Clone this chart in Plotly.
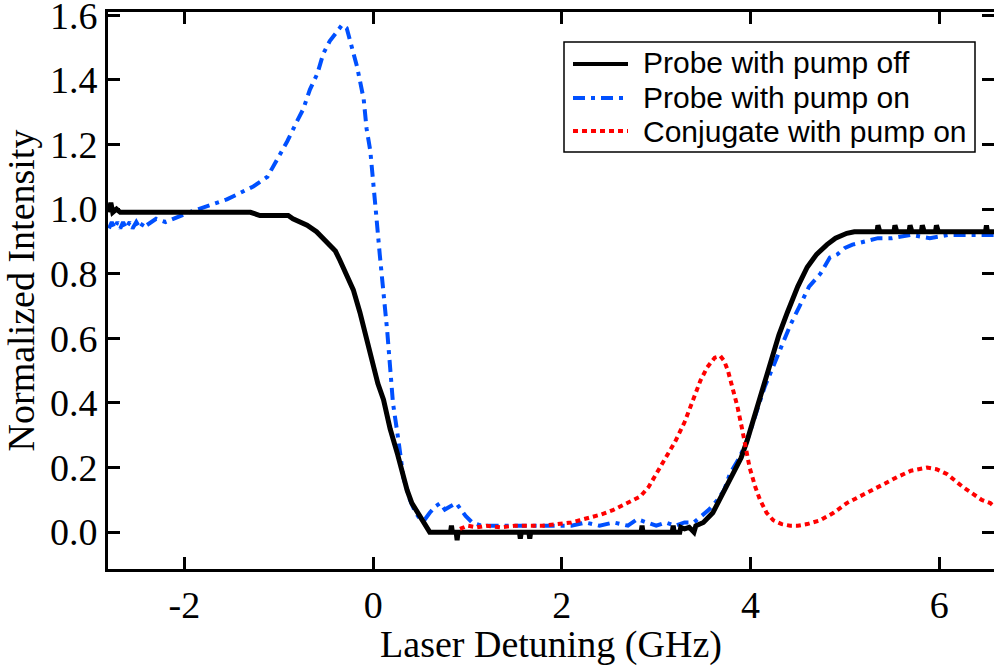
import plotly.graph_objects as go

# ---------------- data ----------------
black_x = [-2.80, -2.78, -2.76, -2.72, -2.68, -2.64, -2.60, -2.55, -2.50, -2.45, -2.40, -2.30, -2.20, -2.10,
           -2.00, -1.90, -1.80, -1.70, -1.60, -1.50, -1.40, -1.30, -1.20, -1.10, -1.00, -0.90, -0.85, -0.78,
           -0.70, -0.60, -0.50, -0.40, -0.35, -0.30, -0.21, -0.14, -0.06, 0.00, 0.05, 0.11, 0.18, 0.26, 0.31,
           0.36, 0.41, 0.47, 0.53, 0.60, 0.70, 0.82, 0.83, 0.84, 0.88, 0.89, 0.90, 1.20, 1.55, 1.56, 1.57,
           1.65, 1.66, 1.67, 2.00, 2.50, 2.84, 2.85, 2.86, 3.17, 3.18, 3.19, 3.25, 3.26, 3.30, 3.35, 3.40,
           3.42, 3.50, 3.60, 3.71, 3.80, 3.90, 3.96, 4.05, 4.12, 4.21, 4.30, 4.39, 4.50, 4.60, 4.70, 4.81,
           4.90, 5.02, 5.10, 5.34, 5.35, 5.37, 5.52, 5.53, 5.55, 5.68, 5.69, 5.71, 5.81, 5.82, 5.84, 5.96,
           5.97, 5.99, 6.49, 6.50, 6.51, 6.58]
black_y = [0.99, 1.02, 0.99, 1.00, 0.99, 0.99, 0.99, 0.99, 0.99, 0.99, 0.99, 0.99, 0.99, 0.99,
           0.99, 0.99, 0.99, 0.99, 0.99, 0.99, 0.99, 0.99, 0.98, 0.98, 0.98, 0.98, 0.97, 0.96,
           0.95, 0.93, 0.90, 0.87, 0.84, 0.81, 0.75, 0.68, 0.59, 0.52, 0.46, 0.41, 0.32, 0.24, 0.18,
           0.13, 0.09, 0.06, 0.03, 0.00, 0.00, 0.00, 0.02, 0.00, 0.00, -0.025, 0.00, 0.00, 0.00, -0.02, 0.00,
           0.00, -0.02, 0.00, 0.00, 0.00, 0.00, 0.02, 0.00, 0.00, 0.02, 0.00, 0.00, 0.015, 0.01, 0.015, 0.00,
           0.02, 0.03, 0.06, 0.12, 0.17, 0.23, 0.28, 0.37, 0.44, 0.53, 0.61, 0.68, 0.76, 0.82, 0.86, 0.89,
           0.91, 0.925, 0.93, 0.93, 0.95, 0.93, 0.93, 0.95, 0.93, 0.93, 0.95, 0.93, 0.93, 0.95, 0.93, 0.93,
           0.95, 0.93, 0.93, 0.95, 0.93, 0.93]

blue_x = [-2.80, -2.77, -2.74, -2.71, -2.68, -2.65, -2.62, -2.58, -2.55, -2.51, -2.47, -2.43, -2.40, -2.30,
          -2.20, -2.12, -2.05, -1.95, -1.85, -1.76, -1.65, -1.55, -1.41, -1.27, -1.12, -1.02, -0.91, -0.81,
          -0.74, -0.67, -0.59, -0.53, -0.46, -0.38, -0.33, -0.28, -0.24, -0.17, -0.10, -0.07, -0.03, 0.00,
          0.03, 0.07, 0.11, 0.15, 0.18, 0.21, 0.27, 0.32, 0.39, 0.45, 0.50, 0.55, 0.60, 0.66, 0.71, 0.76,
          0.82, 0.88, 0.93, 0.98, 1.05, 1.15, 1.30, 1.50, 1.70, 1.90, 2.10, 2.25, 2.40, 2.55, 2.70, 2.80,
          2.90, 3.00, 3.10, 3.20, 3.30, 3.40, 3.48, 3.56, 3.65, 3.72, 3.78, 3.88, 3.96, 4.05, 4.15, 4.25,
          4.33, 4.42, 4.52, 4.62, 4.74, 4.84, 4.92, 5.00, 5.08, 5.20, 5.35, 5.50, 5.70, 5.90, 6.10, 6.30, 6.58]
blue_y = [0.94, 0.96, 0.94, 0.96, 0.94, 0.96, 0.94, 0.96, 0.94, 0.96, 0.94, 0.96, 0.95, 0.97,
          0.96, 0.97, 0.98, 0.99, 1.00, 1.01, 1.02, 1.03, 1.05, 1.07, 1.10, 1.15, 1.21, 1.27,
          1.31, 1.37, 1.42, 1.48, 1.52, 1.55, 1.57, 1.56, 1.52, 1.44, 1.34, 1.25, 1.18, 1.07,
          0.99, 0.86, 0.75, 0.62, 0.51, 0.40, 0.28, 0.17, 0.10, 0.06, 0.04, 0.04, 0.06, 0.08, 0.09, 0.07,
          0.08, 0.09, 0.07, 0.05, 0.03, 0.02, 0.02, 0.02, 0.02, 0.02, 0.02, 0.03, 0.02, 0.03, 0.02, 0.04,
          0.03, 0.02, 0.03, 0.02, 0.03, 0.03, 0.05, 0.07, 0.10, 0.13, 0.18, 0.23, 0.28, 0.36, 0.45, 0.52,
          0.58, 0.64, 0.70, 0.76, 0.80, 0.85, 0.86, 0.88, 0.89, 0.90, 0.91, 0.91, 0.92, 0.91, 0.92, 0.92, 0.92]

red_x = [0.92, 1.00, 1.10, 1.20, 1.35, 1.50, 1.65, 1.80, 1.95, 2.10, 2.19, 2.30, 2.42, 2.54, 2.65, 2.75,
         2.83, 2.92, 3.00, 3.04, 3.12, 3.20, 3.30, 3.39, 3.47, 3.54, 3.62, 3.68, 3.72, 3.76, 3.81, 3.86,
         3.91, 3.95, 3.99, 4.05, 4.10, 4.17, 4.24, 4.33, 4.42, 4.50, 4.60, 4.74, 4.88, 5.02, 5.16, 5.30,
         5.42, 5.55, 5.70, 5.87, 5.97, 6.08, 6.16, 6.25, 6.35, 6.45, 6.54, 6.58]
red_y = [0.01, 0.02, 0.015, 0.02, 0.015, 0.02, 0.02, 0.02, 0.025, 0.03, 0.037, 0.045, 0.055, 0.068, 0.085, 0.10,
         0.11, 0.14, 0.18, 0.20, 0.24, 0.28, 0.34, 0.41, 0.47, 0.51, 0.54, 0.545, 0.53, 0.50, 0.45, 0.39,
         0.32, 0.26, 0.20, 0.14, 0.10, 0.06, 0.037, 0.025, 0.02, 0.02, 0.025, 0.037, 0.06, 0.09, 0.11, 0.13,
         0.15, 0.17, 0.19, 0.20, 0.195, 0.18, 0.16, 0.14, 0.12, 0.10, 0.09, 0.08]

series_names = ["Probe with pump off", "Probe with pump on", "Conjugate with pump on"]
x_tick_vals = [-2, 0, 2, 4, 6]
x_tick_text = ["-2", "0", "2", "4", "6"]
y_tick_vals = [0.0, 0.2, 0.4, 0.6, 0.8, 1.0, 1.2, 1.4, 1.6]
y_tick_text = ["0.0", "0.2", "0.4", "0.6", "0.8", "1.0", "1.2", "1.4", "1.6"]
x_title = "Laser Detuning (GHz)"
y_title = "Normalized Intensity"

# ---------------- styles ----------------
colors = ["black", "rgb(0,80,255)", "rgb(255,0,0)"]
widths = [5, 4, 4]
dashes = ["solid", "12px,6px,4px,6px", "5px,4px"]
legend_widths = [4, 4, 4]

# ---------------- figure ----------------
fig = go.Figure()
fig.add_trace(go.Scatter(x=blue_x, y=blue_y, mode="lines", name=series_names[1],
                         line=dict(color=colors[1], width=widths[1], dash=dashes[1])))
fig.add_trace(go.Scatter(x=black_x, y=black_y, mode="lines", name=series_names[0],
                         line=dict(color=colors[0], width=widths[0], dash=dashes[0])))
fig.add_trace(go.Scatter(x=red_x, y=red_y, mode="lines", name=series_names[2],
                         line=dict(color=colors[2], width=widths[2], dash=dashes[2])))

serif = "Liberation Serif, Times New Roman, serif"
sans = "Liberation Sans, Arial, sans-serif"
axis_common = dict(showline=True, linecolor="black", linewidth=3, mirror="ticks",
                   ticks="inside", ticklen=12, tickwidth=3, tickcolor="black",
                   showgrid=False, zeroline=False, ticklabeloverflow="allow", automargin=False,
                   tickfont=dict(family=serif, size=38, color="black"))

# ---------------- legend box (drawn as a framed key in paper coordinates) ----------------
plot_l, plot_w, plot_b, plot_h = 108, 886, 569, 557
def px_x(p):
    return (p - plot_l) / plot_w
def px_y(p):
    return (plot_b - p) / plot_h

shapes = [dict(type="rect", xref="paper", yref="paper", layer="above",
               x0=px_x(564), x1=px_x(975), y0=px_y(152), y1=px_y(42),
               line=dict(color="black", width=1.5), fillcolor="white")]
annotations = []
row_line_y = [64, 98, 131]
row_text_y = [63, 97, 131]
for i in range(3):
    shapes.append(dict(type="line", xref="paper", yref="paper", layer="above",
                       x0=px_x(573), x1=px_x(628), y0=px_y(row_line_y[i]), y1=px_y(row_line_y[i]),
                       line=dict(color=colors[i], width=legend_widths[i], dash=dashes[i])))
    annotations.append(dict(xref="paper", yref="paper", x=px_x(641), y=px_y(row_text_y[i]),
                            xanchor="left", yanchor="middle", showarrow=False, text=series_names[i],
                            font=dict(family=sans, size=30, color="black")))

fig.update_layout(
    width=994, height=666,
    margin=dict(l=108, r=0, t=12, b=97),
    paper_bgcolor="white", plot_bgcolor="white",
    showlegend=False,
    shapes=shapes,
    annotations=annotations,
    xaxis=dict(range=[-2.81, 6.58], tickvals=x_tick_vals, ticktext=x_tick_text,
               title=dict(text=x_title, font=dict(family=serif, size=38, color="black"), standoff=4),
               **axis_common),
    yaxis=dict(range=[-0.114, 1.61], tickvals=y_tick_vals, ticktext=y_tick_text,
               title=dict(text=y_title, font=dict(family=serif, size=38, color="black"), standoff=6),
               **axis_common),
)

fig.write_html("out.html")
